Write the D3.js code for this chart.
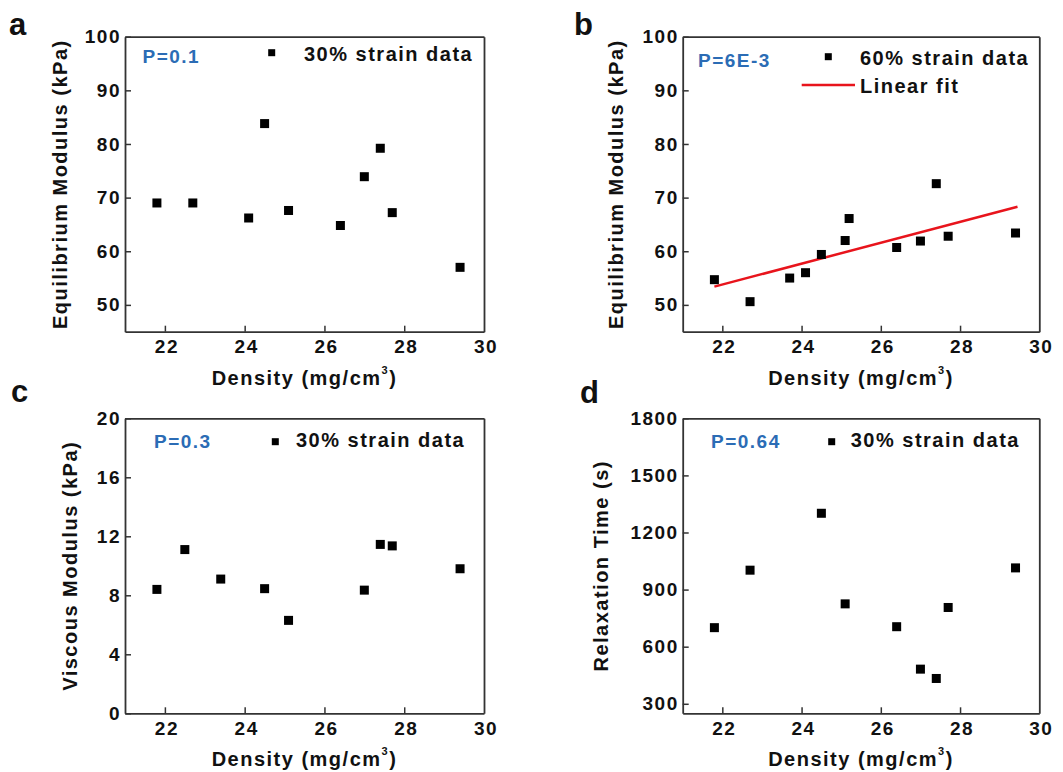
<!DOCTYPE html>
<html>
<head>
<meta charset="utf-8">
<script src="https://cdn.jsdelivr.net/npm/d3@7/dist/d3.min.js"></script>
<style>
  html, body { margin: 0; padding: 0; background: #fff; }
  svg { display: block; }
  text { font-family: "Liberation Sans", Arial, sans-serif; font-weight: bold; }
</style>
</head>
<body>
<svg id="chart" width="1063" height="772"></svg>
<script>
// ---------- data ----------
const xTicks = [22, 24, 26, 28, 30];
const yTicksEq = [50, 60, 70, 80, 90, 100];
const yTicksVisc = [0, 4, 8, 12, 16, 20];
const yTicksRelax = [300, 600, 900, 1200, 1500, 1800];

const densityA = [21.8, 22.7, 24.1, 24.5, 25.1, 26.4, 27.0, 27.4, 27.7, 29.4];
const eqModulus30 = [69.0, 69.0, 66.2, 83.8, 67.6, 64.8, 73.9, 79.2, 67.2, 57.0];

const densityB = [21.8, 22.7, 23.7, 24.1, 24.5, 25.1, 25.2, 26.4, 27.0, 27.4, 27.7, 29.4];
const eqModulus60 = [54.7, 50.6, 55.0, 56.0, 59.4, 62.0, 66.1, 60.7, 61.9, 72.6, 62.8, 63.4];
const fitX = [21.8, 29.45];
const fitY = [53.4, 68.3];

const densityC = [21.8, 22.5, 23.4, 24.5, 25.1, 27.0, 27.4, 27.7, 29.4];
const viscous30 = [8.4, 11.1, 9.1, 8.45, 6.3, 8.35, 11.45, 11.35, 9.8];

const densityD = [21.8, 22.7, 24.5, 25.1, 26.4, 27.0, 27.4, 27.7, 29.4];
const relax30 = [700, 1002, 1301, 825, 705, 482, 433, 806, 1014];

// ---------- layout ----------
const svg = d3.select("#chart");
const LS = "1.5px";
const blue = "#2b6cb5";
const frameColor = "#333";

const panels = [
  { letter: "a", lx: 9, ly: 35, box: [125, 36.7, 484, 331.7], xDom: [21, 30], yDom: [45, 100], yTicks: yTicksEq,
    yTitle: "Equilibrium Modulus (kPa)", yTitleOff: 58, p: "P=0.1", px: 142.5, py: 63,
    xs: densityA, ys: eqModulus30, legend: "30% strain data", mx: 271.7, my: 52.7, tx: 304, ty: 61 },
  { letter: "b", lx: 574, ly: 35, box: [682.7, 36.7, 1039.3, 331.7], xDom: [21, 30], yDom: [45, 100], yTicks: yTicksEq,
    yTitle: "Equilibrium Modulus (kPa)", yTitleOff: 60, p: "P=6E-3", px: 698, py: 66.5,
    xs: densityB, ys: eqModulus60, legend: "60% strain data", mx: 828.3, my: 56.7, tx: 860, ty: 64.5, fit: true },
  { letter: "c", lx: 11, ly: 402, box: [125, 418.3, 484, 713.3], xDom: [21, 30], yDom: [0, 20], yTicks: yTicksVisc,
    yTitle: "Viscous Modulus (kPa)", yTitleOff: 48, p: "P=0.3", px: 154, py: 448.3,
    xs: densityC, ys: viscous30, legend: "30% strain data", mx: 275.3, my: 441.7, tx: 296, ty: 447 },
  { letter: "d", lx: 580, ly: 403, box: [682.7, 418.3, 1039.3, 713.3], xDom: [21, 30], yDom: [250, 1800], yTicks: yTicksRelax,
    yTitle: "Relaxation Time (s)", yTitleOff: 75, p: "P=0.64", px: 711, py: 448.3,
    xs: densityD, ys: relax30, legend: "30% strain data", mx: 831.7, my: 441.7, tx: 850.7, ty: 447 }
];

panels.forEach(pn => {
  const [x0, y0, x1, y1] = pn.box;
  const x = d3.scaleLinear().domain(pn.xDom).range([x0, x1]);
  const y = d3.scaleLinear().domain(pn.yDom).range([y1, y0]);
  const g = svg.append("g");

  // panel letter
  g.append("text").attr("x", pn.lx).attr("y", pn.ly).attr("font-size", 31).attr("fill", "#111").text(pn.letter);

  // bottom axis
  const gx = g.append("g").attr("transform", `translate(0,${y1})`)
    .call(d3.axisBottom(x).tickValues(xTicks).tickFormat(d3.format("d")).tickSizeInner(-6).tickSizeOuter(0).tickPadding(8));
  gx.selectAll("text").attr("font-size", 19).attr("letter-spacing", LS).attr("fill", "#111")
    .attr("font-family", "Liberation Sans, Arial, sans-serif").attr("font-weight", "bold").attr("dx", "0.08em");
  gx.selectAll(".tick line").filter(d => d === 30).remove();

  // left axis
  const gy = g.append("g").attr("transform", `translate(${x0},0)`)
    .call(d3.axisLeft(y).tickValues(pn.yTicks).tickFormat(d3.format("d")).tickSizeInner(-6).tickSizeOuter(0).tickPadding(4));
  gy.selectAll("text").attr("font-size", 19).attr("letter-spacing", LS).attr("fill", "#111")
    .attr("font-family", "Liberation Sans, Arial, sans-serif").attr("font-weight", "bold");

  [gx, gy].forEach(a => {
    a.select(".domain").attr("stroke", frameColor).attr("stroke-width", 1.8);
    a.selectAll(".tick line").attr("stroke", frameColor).attr("stroke-width", 1.5);
  });

  // top & right frame
  g.append("g").attr("transform", `translate(0,${y0})`)
    .call(d3.axisTop(x).tickValues([]).tickSizeOuter(0))
    .select(".domain").attr("stroke", frameColor).attr("stroke-width", 1.8);
  g.append("g").attr("transform", `translate(${x1},0)`)
    .call(d3.axisRight(y).tickValues([]).tickSizeOuter(0))
    .select(".domain").attr("stroke", frameColor).attr("stroke-width", 1.8);

  // axis titles
  const xt = g.append("text").attr("x", (x0 + x1) / 2).attr("y", y1 + 53).attr("text-anchor", "middle")
    .attr("font-size", 20).attr("letter-spacing", LS).attr("fill", "#111");
  xt.append("tspan").text("Density (mg/cm");
  xt.append("tspan").attr("font-size", 11).attr("dy", -11).text("3");
  xt.append("tspan").attr("dy", 11).text(")");

  g.append("text").attr("transform", `translate(${x0 - pn.yTitleOff},${(y0 + y1) / 2}) rotate(-90)`)
    .attr("text-anchor", "middle").attr("font-size", 20).attr("letter-spacing", LS).attr("fill", "#111")
    .text(pn.yTitle);

  // P label
  g.append("text").attr("x", pn.px).attr("y", pn.py).attr("font-size", 19).attr("letter-spacing", LS)
    .attr("fill", blue).text(pn.p);

  // legend
  g.append("rect").attr("x", pn.mx - 3.5).attr("y", pn.my - 3.5).attr("width", 7).attr("height", 7).attr("fill", "#000");
  g.append("text").attr("x", pn.tx).attr("y", pn.ty).attr("font-size", 20).attr("letter-spacing", LS)
    .attr("fill", "#111").text(pn.legend);

  if (pn.fit) {
    g.append("line").attr("x1", 801.7).attr("x2", 855).attr("y1", 85).attr("y2", 85)
      .attr("stroke", "#e8141c").attr("stroke-width", 2.5);
    g.append("text").attr("x", 860).attr("y", 92.7).attr("font-size", 20).attr("letter-spacing", LS)
      .attr("fill", "#111").text("Linear fit");
    const line = d3.line().x(d => x(d[0])).y(d => y(d[1]));
    g.append("path").datum(d3.zip(fitX, fitY)).attr("d", line)
      .attr("fill", "none").attr("stroke", "#e8141c").attr("stroke-width", 2.5);
  }

  // data squares
  const s = 9;
  g.selectAll("rect.pt").data(d3.zip(pn.xs, pn.ys)).enter().append("rect").attr("class", "pt")
    .attr("x", d => x(d[0]) - s / 2).attr("y", d => y(d[1]) - s / 2)
    .attr("width", s).attr("height", s).attr("fill", "#000");
});
</script>
</body>
</html>
